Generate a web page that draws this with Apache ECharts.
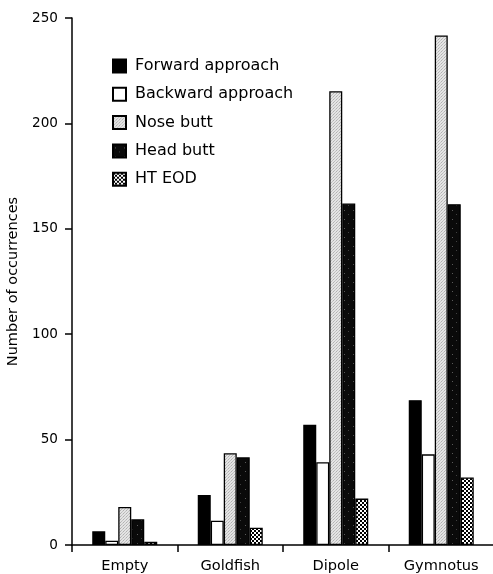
<!DOCTYPE html>
<html><head><meta charset="utf-8">
<script src="https://cdn.jsdelivr.net/npm/echarts@6/dist/echarts.min.js"></script>
<style>html,body{margin:0;padding:0;background:#fff}#c{width:493px;height:574px}</style>
</head><body><div id="c"></div>
<script>
const categories = ['Empty', 'Goldfish', 'Dipole', 'Gymnotus'];
const seriesNames = ['Forward approach', 'Backward approach', 'Nose butt', 'Head butt', 'HT EOD'];
const forwardApproach = [6.5, 23.7, 57, 68.7];
const backwardApproach = [2, 11.5, 39.3, 43];
const noseButt = [18, 43.5, 215.3, 241.7];
const headButt = [12.2, 41.6, 162, 161.7];
const htEod = [1.5, 8.2, 22, 32];
const yTicks = [0, 50, 100, 150, 200, 250];

function pattern(size, bg, dots) {
  const c = document.createElement('canvas');
  c.width = size; c.height = size;
  const g = c.getContext('2d');
  g.fillStyle = bg; g.fillRect(0, 0, size, size);
  dots.forEach(d => { g.fillStyle = d[2]; g.fillRect(d[0], d[1], d[3] || 1, d[4] || 1); });
  return { image: c, repeat: 'repeat' };
}
const fills = [
  '#000000',
  '#ffffff',
  pattern(3, '#e4e4e4', [[0,0,'#b0b0b0'],[2,1,'#c4c4c4'],[1,2,'#bcbcbc']]),
  pattern(9, '#0a0a0a', [[2,3,'#5a5a5a'],[6,7,'#404040']]),
  pattern(4, '#ffffff', [[0,0,'#000',2,2],[2,2,'#000',2,2]])
];
const values = [forwardApproach, backwardApproach, noseButt, headButt, htEod];

const chart = echarts.init(document.getElementById('c'), null, {renderer: 'canvas'});
const font = 'DejaVu Sans';
chart.setOption({
  animation: false,
  backgroundColor: '#ffffff',
  grid: {left: 72, right: -1, top: 18, bottom: 29, containLabel: false, outerBoundsMode: 'none'},
  legend: {
    orient: 'vertical', left: 107, top: 53, icon: 'rect',
    itemWidth: 13, itemHeight: 13, itemGap: 12.3,
    textStyle: {fontFamily: font, fontSize: 16, lineHeight: 16, color: '#000', padding: [0,0,0,4]},
    data: seriesNames
  },
  xAxis: {
    type: 'category', data: categories,
    axisLine: {lineStyle: {color: '#000', width: 1.5}},
    axisTick: {show: true, length: 7, lineStyle: {color: '#000', width: 1.5}},
    axisLabel: {fontFamily: font, fontSize: 14.6, color: '#000', margin: 14}
  },
  yAxis: {
    type: 'value', min: 0, max: 250, interval: 50,
    name: 'Number of occurrences', nameLocation: 'middle', nameGap: 45,
    nameTextStyle: {fontFamily: font, fontSize: 14.5, color: '#000'},
    axisLine: {show: true, lineStyle: {color: '#000', width: 1.5}},
    axisTick: {show: true, length: 7, lineStyle: {color: '#000', width: 1.5}},
    splitLine: {show: false},
    axisLabel: {fontFamily: font, fontSize: 13.6, color: '#000', margin: 14,
      formatter: v => yTicks.includes(v) ? String(v) : ''}
  },
  series: seriesNames.map((n, i) => ({
    name: n, type: 'bar', data: values[i], barWidth: 13, barGap: '0%',
    itemStyle: {color: fills[i], borderColor: '#000', borderWidth: 1.3}
  }))
});
</script></body></html>
